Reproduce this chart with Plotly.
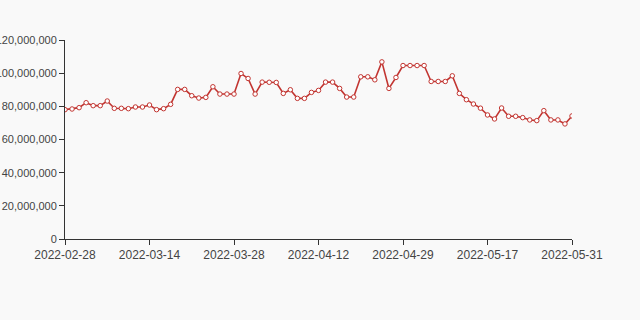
import plotly.graph_objects as go

values_m = [
    78.0, 78.4, 79.2, 82.2, 80.4, 80.4, 83.2, 78.8, 78.8, 78.6,
    79.6, 79.6, 80.8, 78.0, 78.6, 81.2, 90.2, 90.2, 86.4, 85.0,
    85.4, 91.8, 87.4, 87.4, 87.4, 99.8, 96.8, 87.4, 94.6, 94.5,
    94.4, 87.8, 90.0, 84.8, 84.8, 88.4, 89.6, 94.6, 94.6, 90.8,
    85.6, 85.6, 97.8, 97.8, 96.0, 106.8, 90.8, 97.4, 104.6, 104.6,
    104.6, 104.6, 95.0, 95.0, 95.0, 98.4, 87.8, 84.0, 81.4, 78.9,
    74.8, 72.4, 79.0, 74.0, 74.0, 73.2, 71.8, 71.4, 77.4, 71.8,
    71.8, 69.4, 74.2,
]
values = [v * 1e6 for v in values_m]
tick_positions = [0, 12, 24, 36, 48, 60, 72]
tick_labels = ["2022-02-28", "2022-03-14", "2022-03-28", "2022-04-12",
               "2022-04-29", "2022-05-17", "2022-05-31"]
y_ticks = [0, 20e6, 40e6, 60e6, 80e6, 100e6, 120e6]
y_labels = ["0", "20,000,000", "40,000,000", "60,000,000", "80,000,000",
            "100,000,000", "120,000,000"]

x = list(range(len(values)))

fig = go.Figure()
fig.add_trace(go.Scatter(
    x=x, y=values, mode="lines+markers",
    line=dict(color="#c23531", width=1.6),
    marker=dict(symbol="circle", size=4.5, color="white",
                line=dict(color="#c23531", width=1)),
    hoverinfo="skip",
))

y_font = dict(family="Liberation Sans, Arial, sans-serif", size=11, color="#444444")
x_font = dict(family="Liberation Sans, Arial, sans-serif", size=12, color="#444444")
fig.update_layout(
    width=640, height=320,
    margin=dict(l=65, r=68, t=40, b=81),
    paper_bgcolor="#f9f9f9", plot_bgcolor="#f9f9f9",
    showlegend=False,
    xaxis=dict(
        range=[0, 72], tickmode="array", tickvals=tick_positions, ticktext=tick_labels,
        showgrid=False, zeroline=False, showline=True, linecolor="#333333", linewidth=1,
        ticks="outside", ticklen=5, tickcolor="#333333", tickfont=x_font,
        automargin=False,
    ),
    yaxis=dict(
        range=[0, 120e6], tickmode="array", tickvals=y_ticks, ticktext=y_labels,
        showgrid=False, zeroline=False, showline=True, linecolor="#333333", linewidth=1,
        ticks="outside", ticklen=5, tickcolor="#333333", tickfont=y_font,
        automargin=False,
    ),
)

fig.write_html("out.html")
